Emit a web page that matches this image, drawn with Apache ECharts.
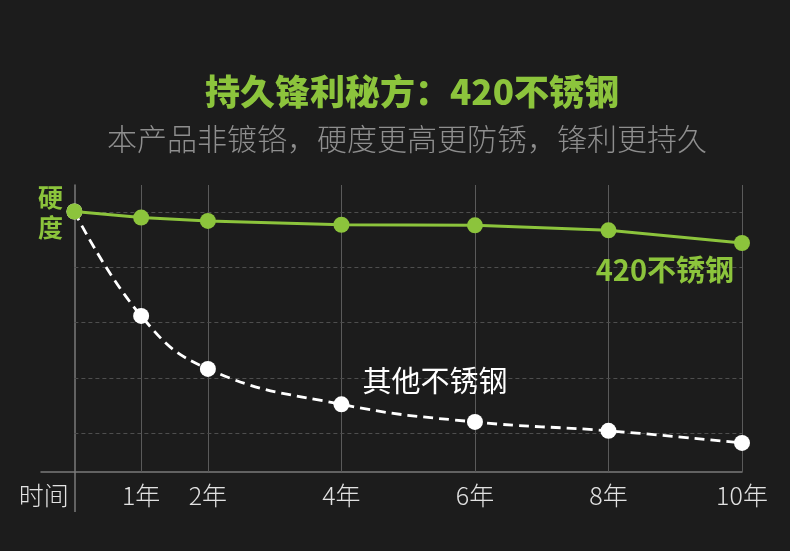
<!DOCTYPE html>
<html>
<head>
<meta charset="utf-8">
<script src="https://cdn.jsdelivr.net/npm/echarts@6/dist/echarts.min.js"></script>
<style>
html,body{margin:0;padding:0;background:#1c1c1c;}
#chart{width:790px;height:551px;}
</style>
</head>
<body>
<div id="chart"></div>
<script>
// Data (years on x, relative hardness on y)
var years = [0, 1, 2, 4, 6, 8, 10];
var tickYears = [1, 2, 4, 6, 8, 10];
var steel420 = [4.01, 3.90, 3.84, 3.77, 3.76, 3.67, 3.44];
var otherSteel = [4.01, 2.12, 1.16, 0.52, 0.20, 0.04, -0.18];
var hGridValues = [0, 1, 2, 3, 4];
var titleText = '持久锋利秘方：420不锈钢';
var subText = '本产品非镀铬，硬度更高更防锈，锋利更持久';
var yName = '硬\n度';
var xName = '时间';
var name420 = '420不锈钢';
var nameOther = '其他不锈钢';

var GREEN = '#8cc43c';
var FONT = '"Noto Sans CJK SC","Noto Sans",sans-serif';

function pairs(xs, ys) { return xs.map(function (x, i) { return [x, ys[i]]; }); }

var greenData = pairs(years, steel420).map(function (p, i) {
  if (i === years.length - 1) {
    return { value: p, label: { show: true, formatter: name420, position: 'bottom', align: 'right', offset: [-8, -1],
      color: GREEN, fontSize: 29, fontWeight: 'bold', fontFamily: FONT } };
  }
  return p;
});
var whiteData = pairs(years, otherSteel).map(function (p, i) {
  if (i === 3) {
    return { value: p, label: { show: true, formatter: nameOther, position: 'top', align: 'left', offset: [21, 4],
      color: '#ffffff', fontSize: 29, fontFamily: FONT } };
  }
  return p;
});

var chart = echarts.init(document.getElementById('chart'), null, { renderer: 'canvas' });
chart.setOption({
  backgroundColor: '#1c1c1c',
  animation: false,
  title: [
    { text: titleText, left: 200, top: 69, textStyle: { color: GREEN, fontSize: 35, fontWeight: 900, fontFamily: FONT } },
    { text: subText, left: 102, top: 119, textStyle: { color: '#8e8e8e', fontSize: 30, fontWeight: 300, fontFamily: FONT } },
    { text: yName, left: 33, top: 177, textStyle: { color: GREEN, fontSize: 25, fontWeight: 'bold', lineHeight: 30, fontFamily: FONT } }
  ],
  grid: { left: 41, right: 48, top: 185, bottom: 79, containLabel: false },
  xAxis: {
    type: 'value', min: -0.5, max: 10,
    axisLine: { show: true, onZero: false, lineStyle: { color: '#7a7a7a', width: 1.5 } },
    axisTick: { show: true, customValues: [0], length: 40, lineStyle: { color: '#7a7a7a', width: 1.5 } },
    axisLabel: {
      show: true, customValues: [-0.46].concat(tickYears), margin: 11,
      color: '#e2e2e2', fontSize: 25, fontWeight: 300, fontFamily: FONT,
      formatter: function (v) { return v < 0 ? xName : v + '年'; }
    },
    splitLine: { show: false }
  },
  yAxis: {
    type: 'value', min: -0.706, max: 4.49,
    axisLine: { show: true, onZero: true, lineStyle: { color: '#7a7a7a', width: 1.5 } },
    axisTick: { show: false }, axisLabel: { show: false }, splitLine: { show: false }
  },
  series: [
    {
      type: 'line', name: nameOther, data: whiteData, smooth: 0.45, z: 3,
      symbol: 'circle', symbolSize: 16,
      itemStyle: { color: '#ffffff', borderWidth: 0, opacity: 1 },
      lineStyle: { color: '#ffffff', width: 2.8, type: [10, 6] },
      markLine: {
        silent: true, symbol: 'none', label: { show: false }, z: 1,
        lineStyle: { color: '#5a5a5a', width: 1, type: 'solid' },
        data: tickYears.map(function (v) { return { xAxis: v }; })
      }
    },
    {
      type: 'line', name: name420, data: greenData, z: 4,
      symbol: 'circle', symbolSize: 16,
      itemStyle: { color: GREEN, borderWidth: 0, opacity: 1 },
      lineStyle: { color: GREEN, width: 3 },
      markLine: {
        silent: true, symbol: 'none', label: { show: false }, z: 1,
        lineStyle: { color: '#4e4e4e', width: 1, type: [4, 3] },
        data: hGridValues.map(function (v) { return [{ coord: [0, v] }, { coord: [10, v] }]; })
      }
    }
  ]
});
</script>
</body>
</html>
